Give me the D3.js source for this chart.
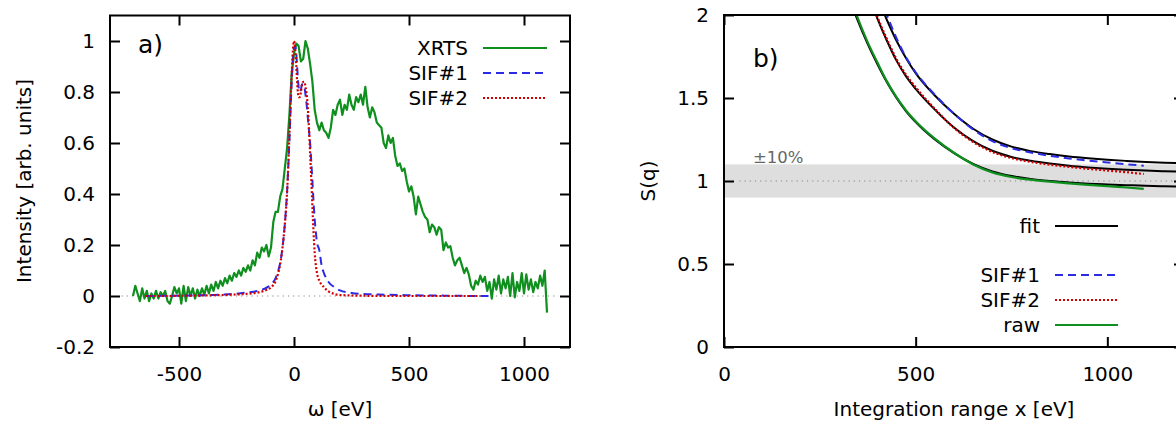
<!DOCTYPE html>
<html><head><meta charset="utf-8">
<script src="https://cdn.jsdelivr.net/npm/d3@7"></script>
<style>body{margin:0;background:#fff;} svg{display:block;} text{font-family:"DejaVu Sans",sans-serif;}</style>
</head><body><svg id="c" width="1176" height="422"></svg>
<script>
// ---------- Panel a data ----------
const xrtsStart = -700, xrtsStep = 10;
const xrtsIntensity = [
 0.00,0.04,0.01,-0.02,0.03,-0.01,0.02,-0.02,0.01,-0.01,
 0.02,-0.01,0.015,0.00,0.02,-0.02,-0.03,0.00,0.035,0.01,
 0.03,-0.03,0.04,-0.02,0.035,0.00,0.03,-0.01,0.025,0.00,
 0.03,0.005,0.04,0.01,0.045,0.02,0.055,0.03,0.06,0.04,
 0.07,0.05,0.08,0.06,0.09,0.075,0.10,0.08,0.11,0.095,
 0.12,0.10,0.14,0.12,0.17,0.15,0.19,0.175,0.20,0.155,
 0.19,0.29,0.33,0.33,0.39,0.42,0.50,0.58,0.71,0.87,
 0.95,0.99,0.98,0.92,0.93,1.00,0.97,0.91,0.84,0.73,
 0.68,0.65,0.68,0.65,0.64,0.62,0.66,0.73,0.71,0.75,
 0.77,0.71,0.75,0.73,0.79,0.75,0.73,0.78,0.76,0.79,
 0.75,0.82,0.74,0.70,0.74,0.72,0.68,0.67,0.66,0.60,
 0.58,0.63,0.60,0.62,0.55,0.51,0.52,0.49,0.50,0.45,
 0.41,0.43,0.39,0.32,0.39,0.36,0.33,0.31,0.30,0.25,
 0.28,0.27,0.24,0.27,0.26,0.18,0.21,0.19,0.195,0.15,
 0.12,0.14,0.15,0.12,0.09,0.11,0.085,0.04,0.025,0.06,
 0.045,0.08,0.055,0.075,0.02,0.055,-0.01,0.065,0.025,0.08,
 0.01,0.065,0.03,0.075,0.00,0.09,-0.005,0.055,0.02,0.09,
 0.01,0.085,0.025,0.065,0.015,0.055,0.03,0.08,0.04,0.10,
 -0.065];
const sifOmega = [-645,-600,-550,-500,-450,-400,-350,-300,-250,-200,
 -175,-150,-125,-100,-80,-70,-60,-50,-40,-30,
 -20,-10,-5,0,5,10,15,20,25,30,
 35,40,45,50,55,60,65,70,75,80,
 85,90,95,100,110,120,130,140,150,175,
 200,250,300,400,500,600,700,810,855];
const sif1Intensity = [0.0,0.0,0.001,0.001,0.002,0.003,0.004,0.006,0.009,0.014,
 0.017,0.022,0.03,0.045,0.07,0.095,0.13,0.19,0.28,0.41,
 0.61,0.84,0.93,0.97,0.98,0.95,0.88,0.82,0.80,0.81,
 0.83,0.83,0.82,0.79,0.75,0.70,0.65,0.60,0.53,0.45,
 0.37,0.30,0.25,0.21,0.18,0.12,0.09,0.07,0.055,0.035,
 0.022,0.012,0.008,0.005,0.003,0.002,0.001,0.0,0.0];
const sif2Intensity = [0.0,0.0,0.0,0.001,0.001,0.002,0.003,0.004,0.006,0.009,
 0.011,0.015,0.022,0.034,0.058,0.085,0.125,0.19,0.28,0.41,
 0.63,0.87,0.96,1.0,0.97,0.90,0.82,0.78,0.78,0.80,
 0.83,0.84,0.84,0.82,0.79,0.74,0.66,0.56,0.46,0.35,
 0.25,0.17,0.12,0.09,0.06,0.045,0.035,0.025,0.018,0.008,
 0.004,0.002,0.001,0.0,0.0,0.0,0.0,0.0,null];
const aXTicks = [-500,0,500,1000];
const aYTicks = [-0.2,0,0.2,0.4,0.6,0.8,1];
const aLegend = ["XRTS","SIF#1","SIF#2"];

// ---------- Panel b data ----------
const rawX = [340,350,375,400,425,450,475,500,550,600,650,700,750,800,850,900,950,1000,1050,1095];
const rawS = [2.035,1.975,1.835,1.715,1.60,1.505,1.425,1.36,1.255,1.17,1.10,1.052,1.024,1.008,0.996,0.986,0.977,0.969,0.961,0.952];
const sif2X = [395,400,425,450,475,500,550,600,650,700,750,800,850,900,950,1000,1050,1095];
const sif2S = [2.02,1.99,1.855,1.735,1.64,1.565,1.435,1.32,1.235,1.175,1.138,1.115,1.098,1.085,1.073,1.063,1.053,1.042];
const sif1X = [420,425,450,475,500,550,600,650,700,750,800,850,900,950,1000,1050,1095];
const sif1S = [2.03,2.0,1.86,1.745,1.655,1.52,1.405,1.31,1.24,1.198,1.172,1.152,1.136,1.123,1.112,1.101,1.092];
const fitRawX = [335,350,375,400,425,450,475,500,550,600,650,700,750,800,850,900,950,1000,1050,1100,1150,1200];
const fitRawS = [2.05,1.96,1.825,1.705,1.595,1.50,1.42,1.355,1.25,1.168,1.103,1.058,1.03,1.012,1.0,0.991,0.984,0.979,0.975,0.971,0.968,0.966];
const fitSif2X = [390,400,425,450,475,500,550,600,650,700,750,800,850,900,950,1000,1050,1100,1150,1200];
const fitSif2S = [2.04,1.98,1.845,1.725,1.63,1.555,1.43,1.322,1.24,1.182,1.145,1.122,1.105,1.092,1.082,1.074,1.068,1.063,1.059,1.056];
const fitSif1X = [412,425,450,475,500,550,600,650,700,750,800,850,900,950,1000,1050,1100,1150,1200];
const fitSif1S = [2.04,1.97,1.845,1.74,1.65,1.515,1.405,1.315,1.25,1.207,1.18,1.162,1.148,1.137,1.128,1.121,1.115,1.11,1.107];
const bXTicks = [0,500,1000];
const bYTicks = [0,0.5,1,1.5,2];
const bLegend = ["fit","SIF#1","SIF#2","raw"];

const GREEN = "#0f8f1e", BLUE = "#2b2be6", RED = "#d40000";
const FONT = "DejaVu Sans";

const svg = d3.select("#c");
svg.append("rect").attr("width",1176).attr("height",422).attr("fill","#fff");

function drawAxes(g, x, y, xt, yt) {
  const [x0,x1] = x.range(), [y0,y1] = y.range();
  const style = a => a.call(s=>s.select(".domain").remove())
    .attr("font-size",20).attr("font-family",FONT)
    .call(s=>s.selectAll(".tick line").attr("stroke","#000").attr("stroke-width",2))
    .call(s=>s.selectAll(".tick text").attr("fill","#000"));
  g.append("g").attr("transform",`translate(0,${y0})`)
    .call(d3.axisBottom(x).tickValues(xt).tickSize(-10).tickSizeOuter(0).tickPadding(20).tickFormat(d=>String(d))).call(style);
  g.append("g").attr("transform",`translate(0,${y1})`)
    .call(d3.axisTop(x).tickValues(xt).tickSize(-10).tickSizeOuter(0).tickFormat(()=>"")).call(style);
  g.append("g").attr("transform",`translate(${x0},0)`)
    .call(d3.axisLeft(y).tickValues(yt).tickSize(-10).tickSizeOuter(0).tickPadding(15).tickFormat(d=>String(d))).call(style);
  g.append("g").attr("transform",`translate(${x1},0)`)
    .call(d3.axisRight(y).tickValues(yt).tickSize(-10).tickSizeOuter(0).tickFormat(()=>"")).call(style);
  g.append("rect").attr("x",x0).attr("y",y1).attr("width",x1-x0).attr("height",y0-y1)
    .attr("fill","none").attr("stroke","#000").attr("stroke-width",2);
}

// ---------- Panel a ----------
const ax = d3.scaleLinear().domain([-800,1200]).range([110,570]);
const ay = d3.scaleLinear().domain([-0.2,1.1]).range([347,15.5]);
const ga = svg.append("g");
ga.append("clipPath").attr("id","clipA").append("rect")
  .attr("x",110).attr("y",15.5).attr("width",460).attr("height",331.5);
const pa = ga.append("g").attr("clip-path","url(#clipA)");
pa.append("line").attr("x1",ax(-750)).attr("x2",ax(1150)).attr("y1",ay(0)).attr("y2",ay(0))
  .attr("stroke","#888").attr("stroke-width",1.2).attr("stroke-dasharray","1.2,4");
const xrtsData = xrtsIntensity.map((v,i)=>[xrtsStart + i*xrtsStep, v]);
const lineA = d3.line().defined(d=>d[1]!=null).x(d=>ax(d[0])).y(d=>ay(d[1]));
pa.append("path").datum(xrtsData).attr("d",lineA).attr("fill","none")
  .attr("stroke",GREEN).attr("stroke-width",2.2).attr("stroke-linejoin","round");
pa.append("path").datum(sifOmega.map((o,i)=>[o,sif1Intensity[i]])).attr("d",lineA.curve(d3.curveMonotoneX)).attr("fill","none")
  .attr("stroke",BLUE).attr("stroke-width",2).attr("stroke-dasharray","8,5");
pa.append("path").datum(sifOmega.map((o,i)=>[o,sif2Intensity[i]])).attr("d",lineA.curve(d3.curveMonotoneX)).attr("fill","none")
  .attr("stroke",RED).attr("stroke-width",2.2).attr("stroke-dasharray","2,2");
drawAxes(ga, ax, ay, aXTicks, aYTicks);
ga.append("text").attr("x",138).attr("y",53).attr("font-size",25).text("a)");
const aStyles = [{c:GREEN,d:null,w:2.2},{c:BLUE,d:"8,5",w:2},{c:RED,d:"2,2",w:2.2}];
aLegend.forEach((t,i)=>{
  const yy = 48 + i*25;
  ga.append("text").attr("x",468).attr("y",yy).attr("dy","0.35em").attr("text-anchor","end").attr("font-size",20).text(t);
  ga.append("line").attr("x1",483).attr("x2",547).attr("y1",yy).attr("y2",yy)
    .attr("stroke",aStyles[i].c).attr("stroke-width",aStyles[i].w).attr("stroke-dasharray",aStyles[i].d);
});
ga.append("text").attr("transform","translate(24,181) rotate(-90)").attr("text-anchor","middle")
  .attr("dy","0.35em").attr("font-size",20).text("Intensity [arb. units]");
ga.append("text").attr("x",340).attr("y",416).attr("text-anchor","middle").attr("font-size",20).text("ω [eV]");

// ---------- Panel b ----------
const bx = d3.scaleLinear().domain([0,1200]).range([724,1184]);
const by = d3.scaleLinear().domain([0,2]).range([347,15]);
const gb = svg.append("g");
gb.append("clipPath").attr("id","clipB").append("rect")
  .attr("x",724).attr("y",15).attr("width",460).attr("height",332);
const pb = gb.append("g").attr("clip-path","url(#clipB)");
pb.append("rect").attr("x",bx(0)).attr("width",bx(1200)-bx(0)).attr("y",by(1.1)).attr("height",by(0.9)-by(1.1)).attr("fill","#dedede");
pb.append("line").attr("x1",bx(40)).attr("x2",bx(1200)).attr("y1",by(1)).attr("y2",by(1))
  .attr("stroke","#888").attr("stroke-width",1.2).attr("stroke-dasharray","1.2,4");
gb.append("text").attr("x",753).attr("y",163).attr("font-size",16.5).attr("fill","#666").text("±10%");
const lineB = d3.line().curve(d3.curveMonotoneX).x(d=>bx(d[0])).y(d=>by(d[1]));
const zipB = (xs,ys)=>xs.map((v,i)=>[v,ys[i]]);
[[fitRawX,fitRawS],[fitSif2X,fitSif2S],[fitSif1X,fitSif1S]].forEach(([xs,ys])=>{
  pb.append("path").datum(zipB(xs,ys)).attr("d",lineB).attr("fill","none").attr("stroke","#000").attr("stroke-width",2);
});
pb.append("path").datum(zipB(rawX,rawS)).attr("d",lineB).attr("fill","none").attr("stroke",GREEN).attr("stroke-width",2.2);
pb.append("path").datum(zipB(sif2X,sif2S)).attr("d",lineB).attr("fill","none").attr("stroke",RED).attr("stroke-width",2.2).attr("stroke-dasharray","2,2");
pb.append("path").datum(zipB(sif1X,sif1S)).attr("d",lineB).attr("fill","none").attr("stroke",BLUE).attr("stroke-width",2).attr("stroke-dasharray","8,5");
drawAxes(gb, bx, by, bXTicks, bYTicks);
gb.append("text").attr("x",753).attr("y",67).attr("font-size",25).text("b)");
const bStyles = [{c:"#000",d:null,w:2,y:226},{c:BLUE,d:"8,5",w:2,y:275},{c:RED,d:"2,2",w:2.2,y:300},{c:GREEN,d:null,w:2.2,y:325}];
bLegend.forEach((t,i)=>{
  const yy = bStyles[i].y;
  gb.append("text").attr("x",1040).attr("y",yy).attr("dy","0.35em").attr("text-anchor","end").attr("font-size",20).text(t);
  gb.append("line").attr("x1",1055).attr("x2",1118).attr("y1",yy).attr("y2",yy)
    .attr("stroke",bStyles[i].c).attr("stroke-width",bStyles[i].w).attr("stroke-dasharray",bStyles[i].d);
});
gb.append("text").attr("transform","translate(648,181) rotate(-90)").attr("text-anchor","middle")
  .attr("dy","0.35em").attr("font-size",20).text("S(q)");
gb.append("text").attr("x",954).attr("y",416).attr("text-anchor","middle").attr("font-size",20).text("Integration range x [eV]");
</script></body></html>
